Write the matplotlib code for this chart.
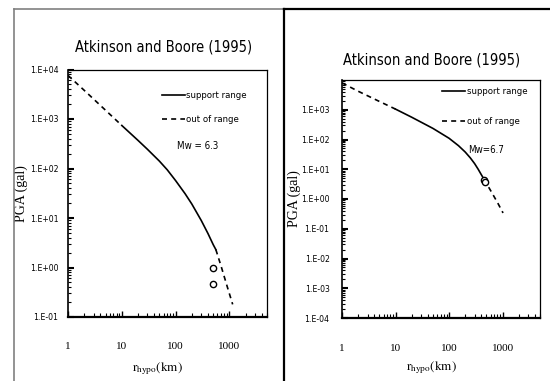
import matplotlib
matplotlib.use("Agg")
import matplotlib.pyplot as plt
from matplotlib.lines import Line2D
from matplotlib.font_manager import FontProperties
import numpy as np

plt.rcParams['mathtext.fontset'] = 'stix'

SERIF = ['Liberation Serif', 'DejaVu Serif']


def narrow(size):
    return FontProperties(family='DejaVu Sans', stretch='condensed', size=size)


# ---------------- data ----------------
title = "Atkinson and Boore (1995)"
legend_labels = ["support range", "out of range"]

# Left panel, Mw = 6.3
l_near_r = [1, 2, 5, 10]
l_near_pga = [7600, 3800, 1500, 740]
l_sup_r = [10, 20, 30, 50, 70, 100, 150, 200, 300, 400, 500, 560]
l_sup_pga = [740, 370, 244, 141, 94, 57, 31, 19.2, 8.9, 4.85, 2.9, 2.3]
l_far_r = [560, 700, 900, 1150]
l_far_pga = [2.3, 1.07, 0.43, 0.18]
l_obs_r = [490, 490]
l_obs_pga = [0.98, 0.47]
l_mw = "Mw = 6.3"
l_yticks = [1e-1, 1e0, 1e1, 1e2, 1e3, 1e4]
l_yticklabels = ["1.E-01", "1.E+00", "1.E+01", "1.E+02", "1.E+03", "1.E+04"]

# Right panel, Mw = 6.7
r_near_r = [1, 2, 5, 10]
r_near_pga = [8000, 4200, 1900, 1050]
r_sup_r = [10, 20, 50, 100, 150, 200, 250, 300, 350, 400, 450]
r_sup_pga = [1050, 562, 236, 110, 62, 38, 24, 15.5, 10, 6.6, 4.6]
r_far_r = [450, 600, 800, 1020]
r_far_pga = [4.6, 1.9, 0.77, 0.34]
r_obs_r = [450, 460]
r_obs_pga = [4.5, 3.6]
r_mw = "Mw=6.7"
r_yticks = [1e-4, 1e-3, 1e-2, 1e-1, 1e0, 1e1, 1e2, 1e3]
r_yticklabels = ["1.E-04", "1.E-03", "1.E-02", "1.E-01", "1.E+00", "1.E+01", "1.E+02", "1.E+03"]

xticks = [1, 10, 100, 1000]
xticklabels = ["1", "10", "100", "1000"]

fig = plt.figure(figsize=(5.5, 3.81), dpi=100)

# panel frames
fig.add_artist(Line2D([13.5/550, 13.5/550], [0, 1 - 9/381], color='#808080', lw=1.2, transform=fig.transFigure))
fig.add_artist(Line2D([13.5/550, 284/550], [1 - 9/381, 1 - 9/381], color='#808080', lw=1.2, transform=fig.transFigure))
fig.add_artist(Line2D([284.5/550, 284.5/550], [0, 1 - 9/381], color='black', lw=1.6, transform=fig.transFigure))
fig.add_artist(Line2D([284/550, 1], [1 - 9/381, 1 - 9/381], color='black', lw=1.6, transform=fig.transFigure))


def panel(rect, near_r, near_pga, sup_r, sup_pga, far_r, far_pga, obs_r, obs_pga,
          ymin, ymax, yticks, yticklabels, mw, mw_xy, title_xy, ylab_x, xpad, ypad,
          leg_anchor, leg_spacing):
    ax = fig.add_axes(rect)
    ax.set_xscale('log')
    ax.set_yscale('log')
    ax.plot(sup_r, sup_pga, color='black', lw=1.2, label=legend_labels[0])
    ax.plot(near_r, near_pga, color='black', lw=1.2, ls=(0, (3, 2.5)), label=legend_labels[1])
    ax.plot(far_r, far_pga, color='black', lw=1.2, ls=(0, (3, 2.5)))
    ax.plot(obs_r, obs_pga, ls='none', marker='o', ms=4.5, mfc='white', mec='black', mew=1.0)
    ax.set_xlim(1, 5000)
    ax.set_ylim(ymin, ymax)
    ax.set_xticks(xticks)
    ax.set_xticklabels(xticklabels, family=SERIF, fontsize=8)
    ax.set_yticks(yticks)
    ax.set_yticklabels(yticklabels, fontproperties=narrow(6.2))
    ax.xaxis.set_minor_locator(matplotlib.ticker.LogLocator(base=10, subs=np.arange(2, 10)))
    ax.yaxis.set_minor_locator(matplotlib.ticker.LogLocator(base=10, subs=np.arange(2, 10), numticks=30))
    ax.xaxis.set_minor_formatter(matplotlib.ticker.NullFormatter())
    ax.yaxis.set_minor_formatter(matplotlib.ticker.NullFormatter())
    ax.tick_params(axis='x', which='major', direction='in', length=4, width=1, pad=xpad, top=False)
    ax.tick_params(axis='x', which='minor', direction='in', length=3, width=0.8, top=False)
    ax.tick_params(axis='y', which='major', direction='in', length=4, width=1.5, pad=ypad, right=False)
    ax.tick_params(axis='y', which='minor', direction='in', length=2.5, width=0.8, right=False)
    for s in ['top', 'right']:
        ax.spines[s].set_linewidth(0.9)
    ax.spines['bottom'].set_linewidth(1.6)
    ax.spines['left'].set_linewidth(1.2)
    ax.set_xlabel(r'$\mathrm{r_{hypo}(km)}$', fontsize=9.5)
    ax.xaxis.set_label_coords(0.45, -0.175)
    ax.set_ylabel('PGA (gal)', family=SERIF, fontsize=10)
    ax.yaxis.set_label_coords(ylab_x, 0.5)
    ax.legend(loc='upper right', bbox_to_anchor=leg_anchor, frameon=False,
              prop=narrow(6.8), handlelength=2.4,
              handletextpad=0.2, labelspacing=leg_spacing, borderpad=0, borderaxespad=0)
    ax.text(mw_xy[0], mw_xy[1], mw, transform=ax.transAxes, ha='center', va='center',
            fontproperties=narrow(7))
    fig.text(title_xy[0], title_xy[1], title, ha='center', va='center',
             fontproperties=narrow(10.5))
    return ax


panel([68/550, 1 - 317/381, 199/550, 247.5/381],
      l_near_r, l_near_pga, l_sup_r, l_sup_pga, l_far_r, l_far_pga, l_obs_r, l_obs_pga,
      1e-1, 1e4, l_yticks, l_yticklabels, l_mw, (0.65, 0.69), (164/550, 1 - 47/381), -0.2, 18, 7,
      (0.90, 0.912), 1.6)

panel([342/550, 1 - 318/381, 198/550, 238/381],
      r_near_r, r_near_pga, r_sup_r, r_sup_pga, r_far_r, r_far_pga, r_obs_r, r_obs_pga,
      1e-4, 1e4, r_yticks, r_yticklabels, r_mw, (0.73, 0.705), (432/550, 1 - 60/381), -0.205, 19, 9,
      (0.935, 0.97), 2.2)

fig.savefig('out.png', dpi=100)
